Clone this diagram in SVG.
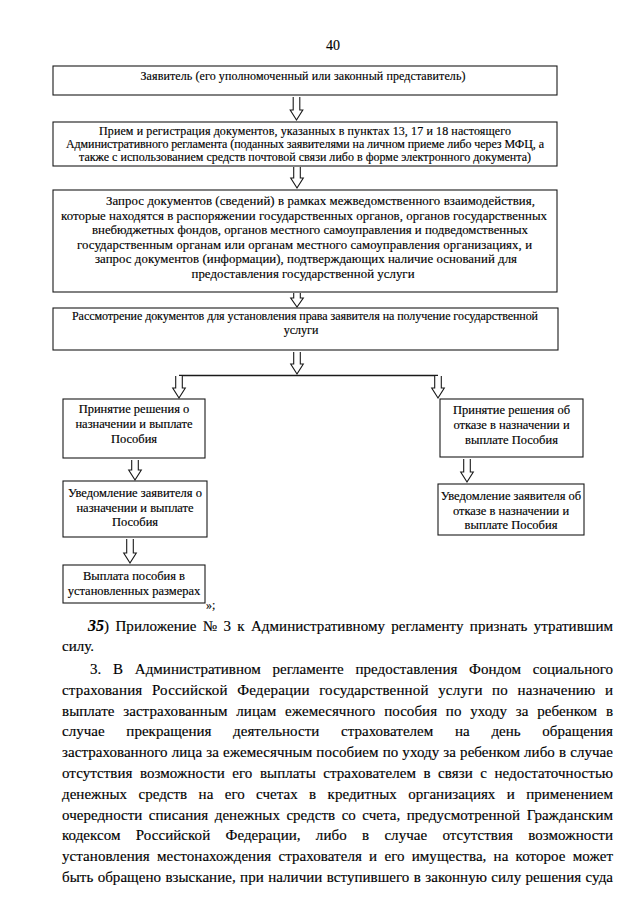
<svg xmlns="http://www.w3.org/2000/svg" width="640" height="905" viewBox="0 0 640 905">
<defs>
<style>
.bg{fill:#fff}
.box{fill:#fff;stroke:#1a1a1a;stroke-width:1.1}
.arr{fill:#fff;stroke:#1a1a1a;stroke-width:1.1;stroke-linejoin:miter}
.ln{fill:none;stroke:#1a1a1a;stroke-width:1.3}
.t{font-family:"Liberation Serif","Times New Roman",serif;fill:#000;stroke:#000;stroke-width:0.15}
.b12{font-size:12px;text-anchor:middle}
.b13{font-size:12.8px;text-anchor:middle}
.s{font-size:12.5px;text-anchor:middle}
.p{font-size:15px}
</style>
</defs>
<rect class="bg" x="0" y="0" width="640" height="905"/>
<text class="t" x="333" y="50" font-size="14" text-anchor="middle">40</text>

<g id="connectors">
<path class="arr" d="M293.2,97 V110 H290.2 L296.5,120 L302.8,110 H299.8 V97"/>
<path class="arr" d="M293.7,167 V178 H290.7 L297,188 L303.3,178 H300.3 V167"/>
<path class="arr" d="M293.7,293 V298 H290.7 L297,307 L303.3,298 H300.3 V293"/>
<path class="arr" d="M293.7,352 V364 H290.7 L297,374 L303.3,364 H300.3 V352"/>
<path class="ln" d="M179,375.5 H438"/>
<path class="arr" d="M175.7,376 V388 H172.7 L179,398 L185.3,388 H182.3 V376"/>
<path class="arr" d="M434.7,376 V388 H431.7 L438,398 L444.3,388 H441.3 V376"/>
<path class="arr" d="M131.7,460 V470 H128.7 L135,480 L141.3,470 H138.3 V460"/>
<path class="arr" d="M126.7,539 V553 H123.7 L130,563 L136.3,553 H133.3 V539"/>
<path class="arr" d="M463.7,459 V472 H460.7 L467,482 L473.3,472 H470.3 V459"/>
</g>

<g id="n1">
<rect class="box" x="53" y="66" width="504" height="29"/>
<text class="t b12" x="303" y="80" textLength="325" lengthAdjust="spacing">Заявитель (его уполномоченный или законный представитель)</text>
</g>

<g id="n2">
<rect class="box" x="53" y="122" width="504" height="44"/>
<text class="t b12" x="305" y="135" textLength="412" lengthAdjust="spacing">Прием и регистрация документов, указанных в пунктах 13, 17 и 18 настоящего</text>
<text class="t b12" x="305" y="148" textLength="478" lengthAdjust="spacing">Административного регламента (поданных заявителями на личном приеме либо через МФЦ, а</text>
<text class="t b12" x="305" y="161" textLength="452" lengthAdjust="spacing">также с использованием средств почтовой связи либо в форме электронного документа)</text>
</g>

<g id="n3">
<rect class="box" x="53" y="190" width="504" height="102"/>
<text class="t" font-size="12.8" x="106" y="205" textLength="429" lengthAdjust="spacing">Запрос документов (сведений) в рамках межведомственного взаимодействия,</text>
<text class="t b13" x="304" y="220" textLength="486" lengthAdjust="spacing">которые находятся в распоряжении государственных органов, органов государственных</text>
<text class="t b13" x="310" y="234" textLength="436" lengthAdjust="spacing">внебюджетных фондов, органов местного самоуправления и подведомственных</text>
<text class="t b13" x="304.5" y="249" textLength="455" lengthAdjust="spacing">государственным органам или органам местного самоуправления организациях, и</text>
<text class="t b13" x="306" y="263" textLength="422" lengthAdjust="spacing">запрос документов (информации), подтверждающих наличие оснований для</text>
<text class="t b13" x="303" y="278" textLength="223" lengthAdjust="spacing">предоставления государственной услуги</text>
</g>

<g id="n4">
<rect class="box" x="53" y="308" width="505" height="42"/>
<text class="t b12" x="305" y="320" textLength="466" lengthAdjust="spacing">Рассмотрение документов для установления права заявителя на получение государственной</text>
<text class="t b12" x="301" y="334">услуги</text>
</g>

<g id="n5">
<rect class="box" x="63" y="399" width="142" height="59"/>
<text class="t s" x="134" y="413">Принятие решения о</text>
<text class="t s" x="134" y="428">назначении и выплате</text>
<text class="t s" x="134" y="443">Пособия</text>
</g>

<g id="n6">
<rect class="box" x="63" y="481" width="144" height="56"/>
<text class="t s" x="135" y="497">Уведомление заявителя о</text>
<text class="t s" x="135" y="512">назначении и выплате</text>
<text class="t s" x="135" y="526">Пособия</text>
</g>

<g id="n7">
<rect class="box" x="63" y="565" width="142" height="38"/>
<text class="t s" x="134" y="580">Выплата пособия в</text>
<text class="t s" x="134" y="595">установленных размерах</text>
</g>
<text class="t" x="206" y="609" font-size="12">»;</text>

<g id="n8">
<rect class="box" x="440" y="399" width="143" height="58"/>
<text class="t s" x="511.5" y="414">Принятие решения об</text>
<text class="t s" x="511.5" y="429">отказе в назначении и</text>
<text class="t s" x="511.5" y="444">выплате Пособия</text>
</g>

<g id="n9">
<rect class="box" x="438" y="484" width="146" height="51"/>
<text class="t s" x="511" y="500">Уведомление заявителя об</text>
<text class="t s" x="511" y="515">отказе в назначении и</text>
<text class="t s" x="511" y="529">выплате Пособия</text>
</g>

<g id="para">
<text class="t p" x="88" y="631" textLength="525" lengthAdjust="spacing" word-spacing="2.5"><tspan font-style="italic" font-weight="bold" font-size="16">35</tspan>) Приложение № 3 к Административному регламенту признать утратившим</text>
<text class="t p" x="62" y="651">силу.</text>
<text class="t p" x="90" y="674" textLength="523" lengthAdjust="spacing" word-spacing="8">3. В Административном регламенте предоставления Фондом социального</text>
<text class="t p" x="62" y="694.8" textLength="551" lengthAdjust="spacing" word-spacing="5.6">страхования Российской Федерации государственной услуги по назначению и</text>
<text class="t p" x="62" y="715.6" textLength="551" lengthAdjust="spacing" word-spacing="5">выплате застрахованным лицам ежемесячного пособия по уходу за ребенком в</text>
<text class="t p" x="62" y="736.4" textLength="551" lengthAdjust="spacing" word-spacing="17.9">случае прекращения деятельности страхователем на день обращения</text>
<text class="t p" x="62" y="757.2" textLength="551" lengthAdjust="spacing" word-spacing="0.3">застрахованного лица за ежемесячным пособием по уходу за ребенком либо в случае</text>
<text class="t p" x="62" y="778" textLength="551" lengthAdjust="spacing" word-spacing="3.7">отсутствия возможности его выплаты страхователем в связи с недостаточностью</text>
<text class="t p" x="62" y="798.8" textLength="551" lengthAdjust="spacing" word-spacing="7.6">денежных средств на его счетах в кредитных организациях и применением</text>
<text class="t p" x="62" y="819.6" textLength="551" lengthAdjust="spacing" word-spacing="2.7">очередности списания денежных средств со счета, предусмотренной Гражданским</text>
<text class="t p" x="62" y="840.4" textLength="551" lengthAdjust="spacing" word-spacing="11.5">кодексом Российской Федерации, либо в случае отсутствия возможности</text>
<text class="t p" x="62" y="861.2" textLength="551" lengthAdjust="spacing" word-spacing="3.4">установления местонахождения страхователя и его имущества, на которое может</text>
<text class="t p" x="62" y="882" textLength="551" lengthAdjust="spacing" word-spacing="0.6">быть обращено взыскание, при наличии вступившего в законную силу решения суда</text>
</g>
</svg>
